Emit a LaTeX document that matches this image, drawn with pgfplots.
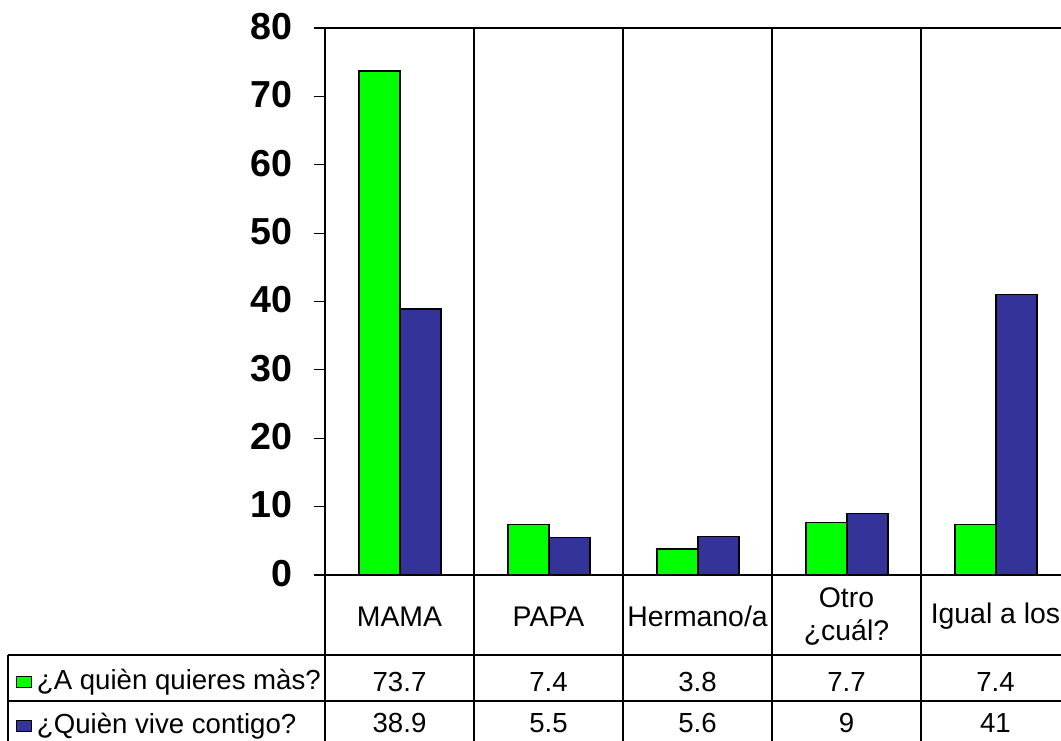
\documentclass[border=0pt]{standalone}
\usepackage{pgfplots}
\pgfplotsset{compat=1.18}
\usepackage{fontspec}
\setmainfont{Liberation Sans}
\definecolor{bargreen}{RGB}{0,255,0}
\definecolor{barblue}{RGB}{51,51,153}
\pgfplotsset{mykey/.style={legend image code/.code={\draw[##1,line width=0.6pt] (0pt,-2.75pt) rectangle (7.5pt,2.75pt);}}}
\begin{document}
\begin{tikzpicture}
\begin{axis}[
  at={(162.5pt,82.5pt)}, anchor=south west,
  scale only axis, width=372.5pt, height=273.5pt,
  xmin=-0.5, xmax=4.5, ymin=0, ymax=80,
  clip=false,
  axis line style={line width=0.6pt},
  tick pos=left, tick align=outside,
  major tick length=5.5pt,
  tick style={line width=0.6pt, black},
  xtick={0,1,2,3,4},
  xticklabels={MAMA, PAPA, Hermano/a, {Otro\\¿cuál?}, Igual a los},
  x tick label style={font=\fontsize{14.2}{16.5}\selectfont, align=center, anchor=center, yshift=-15.2pt, inner sep=0pt},
  major x tick style={draw=none},
  ytick={0,10,...,80},
  y tick label style={font=\bfseries\fontsize{18.8}{20}\selectfont, anchor=east, inner sep=0pt, xshift=-10.5pt, yshift=0.8pt},
  /pgf/number format/assume math mode=true,
  legend cell align=left,
  legend style={draw=none, fill=none, inner sep=0pt, at={(axis cs:-2.578,-13.7)}, anchor=north west,
    font=\fontsize{13.8}{16.5}\selectfont, row sep=9pt, column sep=2.5pt,
    nodes={inner sep=0pt, text height=10pt, text depth=3pt}},
]
\addplot[ybar, mykey, bar width=20.5pt, bar shift=-10pt, fill=bargreen, draw=black, line width=0.75pt]
  coordinates {(0,73.7) (1,7.4) (2,3.8) (3,7.7) (4,7.4)};
\addlegendentry{¿A quièn quieres màs?}
\addplot[ybar, mykey, bar width=20.5pt, bar shift=10.5pt, fill=barblue, draw=black, line width=0.75pt]
  coordinates {(0,38.9) (1,5.5) (2,5.6) (3,9) (4,41)};
\addlegendentry{¿Quièn vive contigo?}
\addplot[draw=none, mark=none, forget plot, point meta=explicit symbolic, nodes near coords,
  nodes near coords style={anchor=center, inner sep=0pt, font=\fontsize{13.8}{16.5}\selectfont}]
  coordinates {(0,-15.65)[73.7] (1,-15.65)[7.4] (2,-15.65)[3.8] (3,-15.65)[7.7] (4,-15.65)[7.4]};
\addplot[draw=none, mark=none, forget plot, point meta=explicit symbolic, nodes near coords,
  nodes near coords style={anchor=center, inner sep=0pt, font=\fontsize{13.8}{16.5}\selectfont}]
  coordinates {(0,-21.65)[38.9] (1,-21.65)[5.5] (2,-21.65)[5.6] (3,-21.65)[9] (4,-21.65)[41]};
\draw[line width=0.6pt] (axis cs:0.5,80) -- (axis cs:0.5,-25.5);
\draw[line width=0.6pt] (axis cs:1.5,80) -- (axis cs:1.5,-25.5);
\draw[line width=0.6pt] (axis cs:2.5,80) -- (axis cs:2.5,-25.5);
\draw[line width=0.6pt] (axis cs:3.5,80) -- (axis cs:3.5,-25.5);
\draw[line width=0.6pt] (axis cs:4.5,80) -- (axis cs:4.5,-25.5);
\draw[line width=0.6pt] (axis cs:-0.5,0) -- (axis cs:-0.5,-25.5);
\draw[line width=0.6pt] (axis cs:-2.6275,-11.70) -- (axis cs:4.5,-11.70);
\draw[line width=0.6pt] (axis cs:-2.6275,-18.43) -- (axis cs:4.5,-18.43);
\draw[line width=0.6pt] (axis cs:-2.6275,-11.70) -- (axis cs:-2.6275,-25.5);
\end{axis}
\pgfresetboundingbox
\useasboundingbox (0,0) rectangle (530.5pt,370pt);
\end{tikzpicture}
\end{document}
